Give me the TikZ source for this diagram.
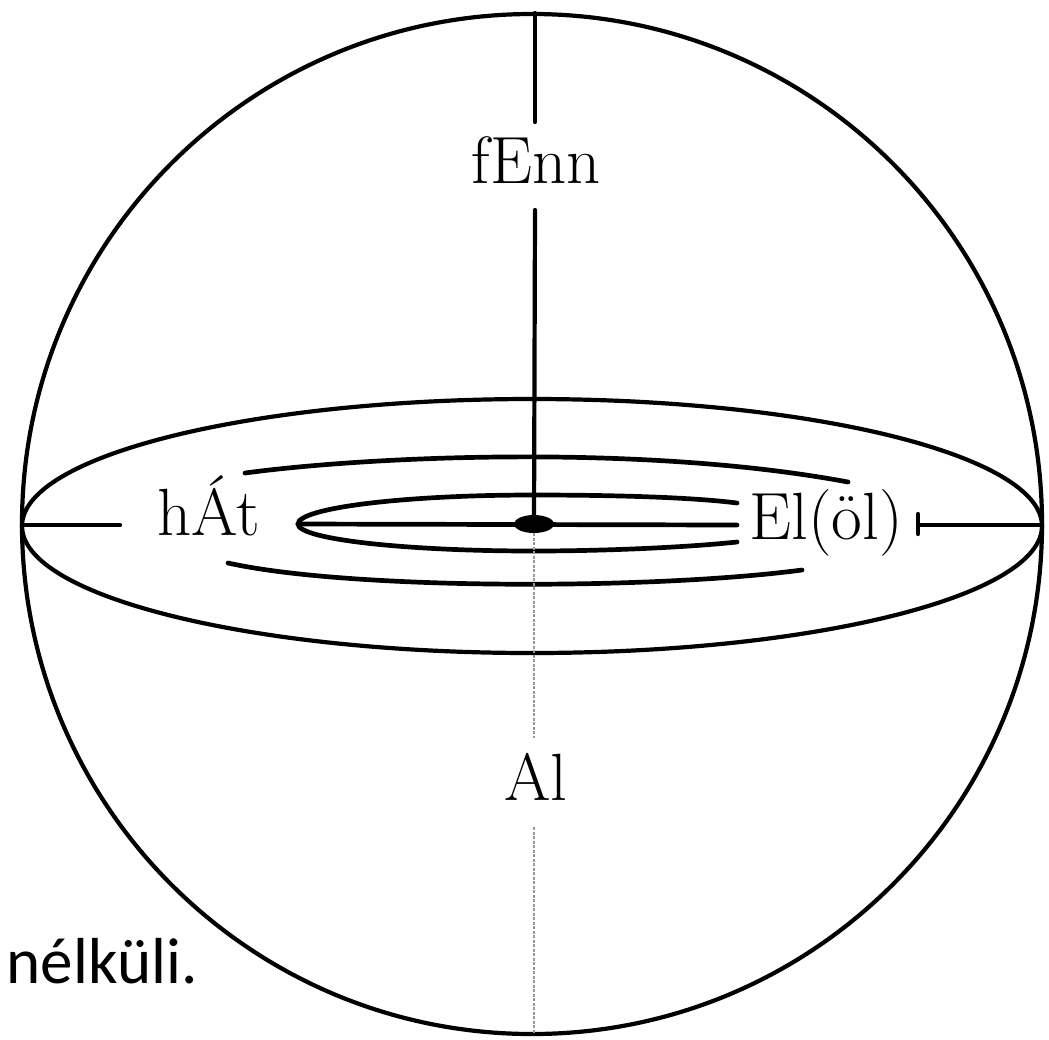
\documentclass[tikz,border=0pt]{standalone}
\usepackage{fontspec}
\newfontfamily\captfont{Carlito}
\begin{document}
\begin{tikzpicture}[x=0.01cm,y=-0.01cm,
  ink/.style={line width=0.042cm, line cap=round},
  swirl/.style={line width=0.047cm, line cap=round},
  hidden/.style={line width=0.028cm, gray!80, dash pattern=on 0.03cm off 0.015cm},
  lbl/.style={font=\fontsize{19}{22}\selectfont, inner sep=0pt, anchor=base}]
\useasboundingbox (0,0) rectangle (1049,1039);

% labels
\node[lbl] (up) at (536,183) {fEnn};
\node[lbl] (back) at (209,535) {hÁt};
\node[lbl] (front) at (826,539) {El(öl)};
\node[lbl] (down) at (536,800) {Al};
\node[font=\captfont\fontsize{18.5}{22}\selectfont, inner sep=0pt, anchor=base west] (cap) at (6,983) {nélküli.};

% sphere and equator
\coordinate (O) at (532,524);
\draw[ink] (O) circle[radius=510];
\draw[ink] (532,526) ellipse[x radius=510, y radius=127];

% spiral
\draw[swirl] (737,503) .. controls (690,497) and (610,495) .. (533,495)
  .. controls (403,495) and (298,508) .. (298,524)
  .. controls (298,539) and (403,551) .. (533,551)
  .. controls (610,551) and (690,547) .. (737,542);
\draw[swirl] (298,524) -- (737,525);
\draw[swirl] (245,473) .. controls (380,455) and (650,445) .. (848,482);
\draw[swirl] (228,563) .. controls (350,590) and (650,590) .. (802,570);

% axes
\coordinate (ntop) at (535,13);
\coordinate (nlow) at (535,122);
\coordinate (mtop) at (535,210);
\coordinate (ctr) at (534,524);
\coordinate (stop1) at (534,738);
\coordinate (stop2) at (534,827);
\coordinate (sbot) at (534,1033);
\coordinate (wl) at (22,525);
\coordinate (wr) at (120,525);
\coordinate (el) at (918,525);
\coordinate (er) at (1042,525);

\draw[ink] (ntop) -- (nlow);
\draw[ink] (mtop) -- (ctr);
\fill (ctr) ellipse[x radius=20, y radius=9];
\draw[hidden] ([yshift=-0.09cm]ctr) -- (stop1);
\draw[hidden] (stop2) -- (sbot);
\draw[ink] (wl) -- (wr);
\draw[ink] (el) -- (er);
\draw[ink] ([yshift=0.11cm]el) -- ([yshift=-0.09cm]el);
\end{tikzpicture}
\end{document}
